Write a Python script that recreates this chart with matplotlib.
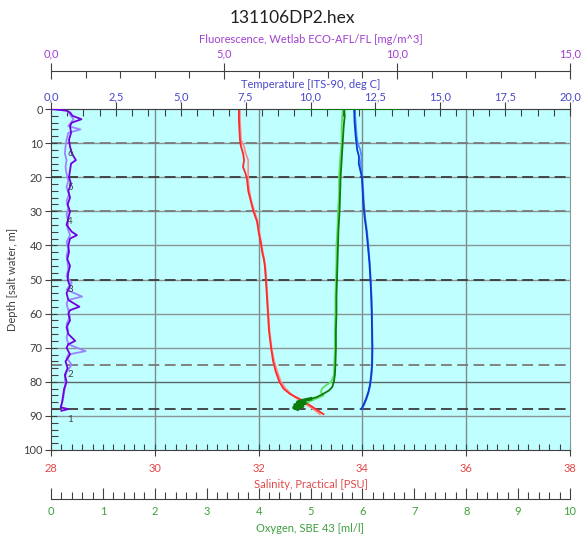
import numpy as np
import matplotlib
matplotlib.use("Agg")
import matplotlib.pyplot as plt
from matplotlib.ticker import MultipleLocator, FuncFormatter

plt.rcParams["font.family"] = ["Lato", "DejaVu Sans"]

# ---- profile data ----
# salinity [PSU], downcast / upcast
sal_depth = [0, 3, 6, 9, 11, 13, 15, 17, 19, 21, 24, 27, 30, 33, 36, 39, 42, 44, 46, 50,
             55, 60, 65, 70, 74, 77, 80, 82, 83.5, 84.5, 85.5, 86.5, 87.5, 88.5, 89.5]
sal_down = [31.62, 31.62, 31.63, 31.64, 31.66, 31.7, 31.72, 31.7, 31.75, 31.78,
            31.8, 31.85, 31.9, 31.97, 32.0, 32.04, 32.07, 32.1, 32.12, 32.14,
            32.16, 32.18, 32.2, 32.24, 32.28, 32.33, 32.4, 32.48, 32.6, 32.72,
            32.85, 32.95, 33.05, 33.15, 33.25]
sal_up = [31.64, 31.64, 31.65, 31.66, 31.72, 31.75, 31.8, 31.8, 31.8, 31.8,
          31.82, 31.86, 31.92, 31.98, 32.01, 32.05, 32.08, 32.11, 32.13, 32.15,
          32.17, 32.19, 32.21, 32.25, 32.3, 32.36, 32.43, 32.52, 32.62, 32.7,
          32.8, 32.9, 33.0, 33.1, 33.18]

# temperature [deg C]
tmp_depth = [0, 2, 4, 6, 8, 10, 12, 14, 16, 18, 20, 24, 28, 32, 36, 40, 45, 50, 55, 60,
             65, 70, 75, 78, 81, 83, 85, 86.5, 88]
tmp_down = [11.68, 11.69, 11.7, 11.72, 11.74, 11.77, 11.8, 11.87, 11.86, 11.92,
            11.98, 12.01, 12.04, 12.09, 12.16, 12.21, 12.27, 12.31, 12.34, 12.36,
            12.37, 12.38, 12.37, 12.34, 12.29, 12.23, 12.14, 12.06, 11.96]
tmp_up = [11.72, 11.72, 11.74, 11.76, 11.78, 11.82, 11.92, 11.97, 11.94, 11.97,
          12.0, 12.03, 12.06, 12.11, 12.18, 12.23, 12.28, 12.32, 12.35, 12.37,
          12.38, 12.39, 12.38, 12.35, 12.3, 12.24, 12.16, 12.08, 11.98]

# oxygen [ml/l]
oxy_depth = [0, 0, 0, 2, 5, 10, 15, 20, 25, 30, 35, 40, 45, 50, 55, 60, 65, 70, 75, 78,
             80, 81.5, 82.5, 83.5, 84.5, 85, 85.5, 86, 86.3, 86.8, 87.2, 87.6, 88]
oxy_down = [4.8, 6.7, 5.65, 5.66, 5.64, 5.62, 5.6, 5.58, 5.57, 5.56,
            5.54, 5.53, 5.52, 5.51, 5.5, 5.5, 5.49, 5.49, 5.48, 5.47,
            5.45, 5.42, 5.36, 5.25, 5.12, 5.0, 4.85, 4.75, 4.9, 4.7,
            4.85, 4.68, 4.75]
oxy_up_depth = [0, 5, 10, 15, 20, 25, 30, 35, 40, 45, 50, 55, 60, 65, 70, 75, 78, 80,
                81, 82, 83, 84, 85, 86]
oxy_up = [5.62, 5.6, 5.6, 5.57, 5.55, 5.55, 5.53, 5.52, 5.5, 5.5, 5.49, 5.48,
          5.48, 5.47, 5.47, 5.46, 5.45, 5.4, 5.3, 5.22, 5.2, 5.25, 5.1, 4.95]

# fluorescence [mg/m^3]
flu_depth = [0, 0.5, 1, 2, 3, 4, 5, 7, 9, 11, 13, 15, 16, 18, 20, 22, 24, 26, 28, 30,
             32, 34, 36, 37, 38, 40, 42, 44, 46, 48, 50, 52, 54, 56, 58, 59, 60, 62, 64, 66,
             68, 69, 70, 72, 74, 76, 78, 80, 82, 84, 86, 87.5, 88, 88.5]
flu_down = [0.0, 0.45, 0.55, 0.62, 0.88, 0.6, 0.55, 0.58, 0.52, 0.55,
            0.6, 0.72, 0.58, 0.55, 0.52, 0.58, 0.5, 0.55, 0.48, 0.55,
            0.5, 0.45, 0.6, 0.75, 0.55, 0.5, 0.52, 0.47, 0.55, 0.5,
            0.48, 0.55, 0.45, 0.5, 0.82, 0.55, 0.5, 0.55, 0.45, 0.5,
            0.7, 0.5, 0.45, 0.55, 0.42, 0.48, 0.4, 0.45, 0.38, 0.35,
            0.32, 0.28, 0.5, 0.3]
flu_up_depth = [1, 3, 5, 6, 7, 9, 11, 13, 15, 17, 19, 21, 23, 25, 27, 29, 31, 33, 35, 37,
                39, 41, 43, 45, 47, 49, 51, 53, 55, 56, 57, 59, 61, 63, 65, 67, 69, 71, 72, 73,
                75, 77, 79, 81, 83, 85, 87]
flu_up = [0.5, 0.65, 0.5, 0.85, 0.5, 0.45, 0.42, 0.4, 0.45, 0.42,
          0.45, 0.5, 0.45, 0.52, 0.45, 0.5, 0.45, 0.5, 0.48, 0.55,
          0.45, 0.5, 0.45, 0.48, 0.5, 0.45, 0.6, 0.45, 0.9, 0.5,
          0.45, 0.5, 0.55, 0.45, 0.5, 0.45, 0.5, 1.0, 0.5, 0.45,
          0.6, 0.45, 0.4, 0.42, 0.38, 0.35, 0.3]

# bottle fire depths and their numbers
bottle_depth = [10, 20, 30, 50, 75, 88]
bottle_num = ["6", "5", "4", "3", "2", "1"]
bottle_dark = [False, True, False, True, False, True]

C_SAL, C_SAL2 = "#ff2a2a", "#ff8c8c"
C_TMP, C_TMP2 = "#0a3ad0", "#4a90ff"
C_OXY, C_OXY2 = "#0b7d0b", "#5ee05e"
C_FLU, C_FLU2 = "#7000e0", "#9a84ff"
LBL_SAL, LBL_TMP, LBL_OXY, LBL_FLU = "#e0484a", "#4848c8", "#3ea03e", "#a040d0"
SPINE = "#404040"
LW = 1.3


def comma(v, pos):
    return f"{v:.1f}".replace(".", ",")


fig = plt.figure(figsize=(5.84, 5.40), dpi=100, facecolor="white")
ax = fig.add_axes([51 / 584, 1 - 450 / 540, 519 / 584, 341 / 540])
ax.set_facecolor("#bfffff")

# main axis: salinity (bottom) vs depth
ax.set_xlim(28, 38)
ax.set_ylim(100, 0)
ax.xaxis.set_major_locator(MultipleLocator(2))
ax.xaxis.set_minor_locator(MultipleLocator(0.2))
ax.yaxis.set_major_locator(MultipleLocator(10))
ax.yaxis.set_minor_locator(MultipleLocator(2))
ax.tick_params(axis="x", which="major", direction="inout", length=8, width=0.8,
               colors=SPINE, labelcolor=LBL_SAL, labelsize=8, pad=5)
ax.tick_params(axis="x", which="minor", direction="in", length=4, width=0.8, colors=SPINE)
ax.tick_params(axis="y", which="major", direction="inout", length=8, width=0.8,
               colors=SPINE, labelcolor="#404040", labelsize=8, pad=2)
ax.tick_params(axis="y", which="minor", direction="in", length=5, width=0.8, colors=SPINE)
ax.set_xlabel("Salinity, Practical [PSU]", color=LBL_SAL, fontsize=8, labelpad=4)
ax.set_ylabel("Depth [salt water, m]", color="#404040", fontsize=8, labelpad=4)
for s in ("left", "bottom"):
    ax.spines[s].set_color(SPINE)
for s in ("right", "top"):
    ax.spines[s].set_color("#8a9a9a")

for x in (30, 32, 34, 36):
    ax.axvline(x, color="#7f8c8c", lw=1.0, zorder=1)
for d in range(10, 100, 10):
    ax.axhline(d, color="#5a6666" if d == 80 else "#8a9696", lw=1.0, zorder=1)
for d, dark in zip(bottle_depth, bottle_dark):
    ax.axhline(d, color="#3c3c3c" if dark else "#7a7a7a", lw=1.3,
               dashes=(6, 3), zorder=1.5)

ax.plot(sal_up, sal_depth, color=C_SAL2, lw=LW, zorder=3)
ax.plot([28.0] + sal_down, [0] + sal_depth, color=C_SAL, lw=LW, zorder=3)

# temperature: top axis
ax_t = ax.twiny()
ax_t.set_xlim(0, 20)
ax_t.xaxis.set_major_locator(MultipleLocator(2.5))
ax_t.xaxis.set_minor_locator(MultipleLocator(0.625))
ax_t.xaxis.set_major_formatter(FuncFormatter(comma))
ax_t.tick_params(axis="x", which="major", direction="inout", length=10, width=0.8,
                 colors=SPINE, labelcolor=LBL_TMP, labelsize=8, pad=0)
ax_t.tick_params(axis="x", which="minor", direction="in", length=5, width=0.8, colors=SPINE)
ax_t.set_xlabel("Temperature [ITS-90, deg C]", color=LBL_TMP, fontsize=8, labelpad=2)
ax_t.spines["top"].set_color(SPINE)
for s in ("left", "right", "bottom"):
    ax_t.spines[s].set_visible(False)
ax_t.plot(tmp_up, tmp_depth, color=C_TMP2, lw=LW)
ax_t.plot(tmp_down, tmp_depth, color=C_TMP, lw=LW)

# oxygen: detached bottom axis
ax_o = ax.twiny()
ax_o.set_xlim(0, 10)
ax_o.xaxis.set_ticks_position("bottom")
ax_o.xaxis.set_label_position("bottom")
ax_o.spines["bottom"].set_position(("outward", 49 * 0.72))
ax_o.spines["bottom"].set_color(SPINE)
for s in ("left", "right", "top"):
    ax_o.spines[s].set_visible(False)
ax_o.xaxis.set_major_locator(MultipleLocator(1))
ax_o.xaxis.set_minor_locator(MultipleLocator(0.2))
ax_o.tick_params(axis="x", which="major", direction="in", length=8, width=0.8,
                 colors=SPINE, labelcolor=LBL_OXY, labelsize=8, pad=5)
ax_o.tick_params(axis="x", which="minor", direction="in", length=5, width=0.8, colors=SPINE)
ax_o.set_xlabel("Oxygen, SBE 43 [ml/l]", color=LBL_OXY, fontsize=8, labelpad=4)
ax_o.plot(oxy_up, oxy_up_depth, color=C_OXY2, lw=LW)
ax_o.plot(oxy_down, oxy_depth, color=C_OXY, lw=LW)
ax_o.plot(oxy_down[-8:], oxy_depth[-8:], color=C_OXY, lw=2.5)

# fluorescence: detached top axis
ax_f = ax.twiny()
ax_f.set_xlim(0, 15)
ax_f.spines["top"].set_position(("outward", 38 * 0.72))
ax_f.spines["top"].set_color(SPINE)
for s in ("left", "right", "bottom"):
    ax_f.spines[s].set_visible(False)
ax_f.xaxis.set_major_locator(MultipleLocator(5))
ax_f.xaxis.set_minor_locator(MultipleLocator(1))
ax_f.xaxis.set_major_formatter(FuncFormatter(comma))
ax_f.tick_params(axis="x", which="major", direction="inout", length=12, width=0.8,
                 colors=SPINE, labelcolor=LBL_FLU, labelsize=8, pad=2)
ax_f.tick_params(axis="x", which="minor", direction="in", length=5, width=0.8, colors=SPINE)
ax_f.set_xlabel("Fluorescence, Wetlab ECO-AFL/FL [mg/m^3]", color=LBL_FLU,
                fontsize=8, labelpad=4)
ax_f.plot(flu_up, flu_up_depth, color=C_FLU2, lw=LW)
ax_f.plot(flu_down, flu_depth, color=C_FLU, lw=LW)
for d, n in zip(bottle_depth, bottle_num):
    ax_f.text(0.55, d + 3, n, color="#404040", fontsize=7, ha="center", va="center")

fig.suptitle("131106DP2.hex", y=0.982, fontsize=12.5, color="#202020")
fig.savefig("out.png", dpi=100, facecolor="white")
